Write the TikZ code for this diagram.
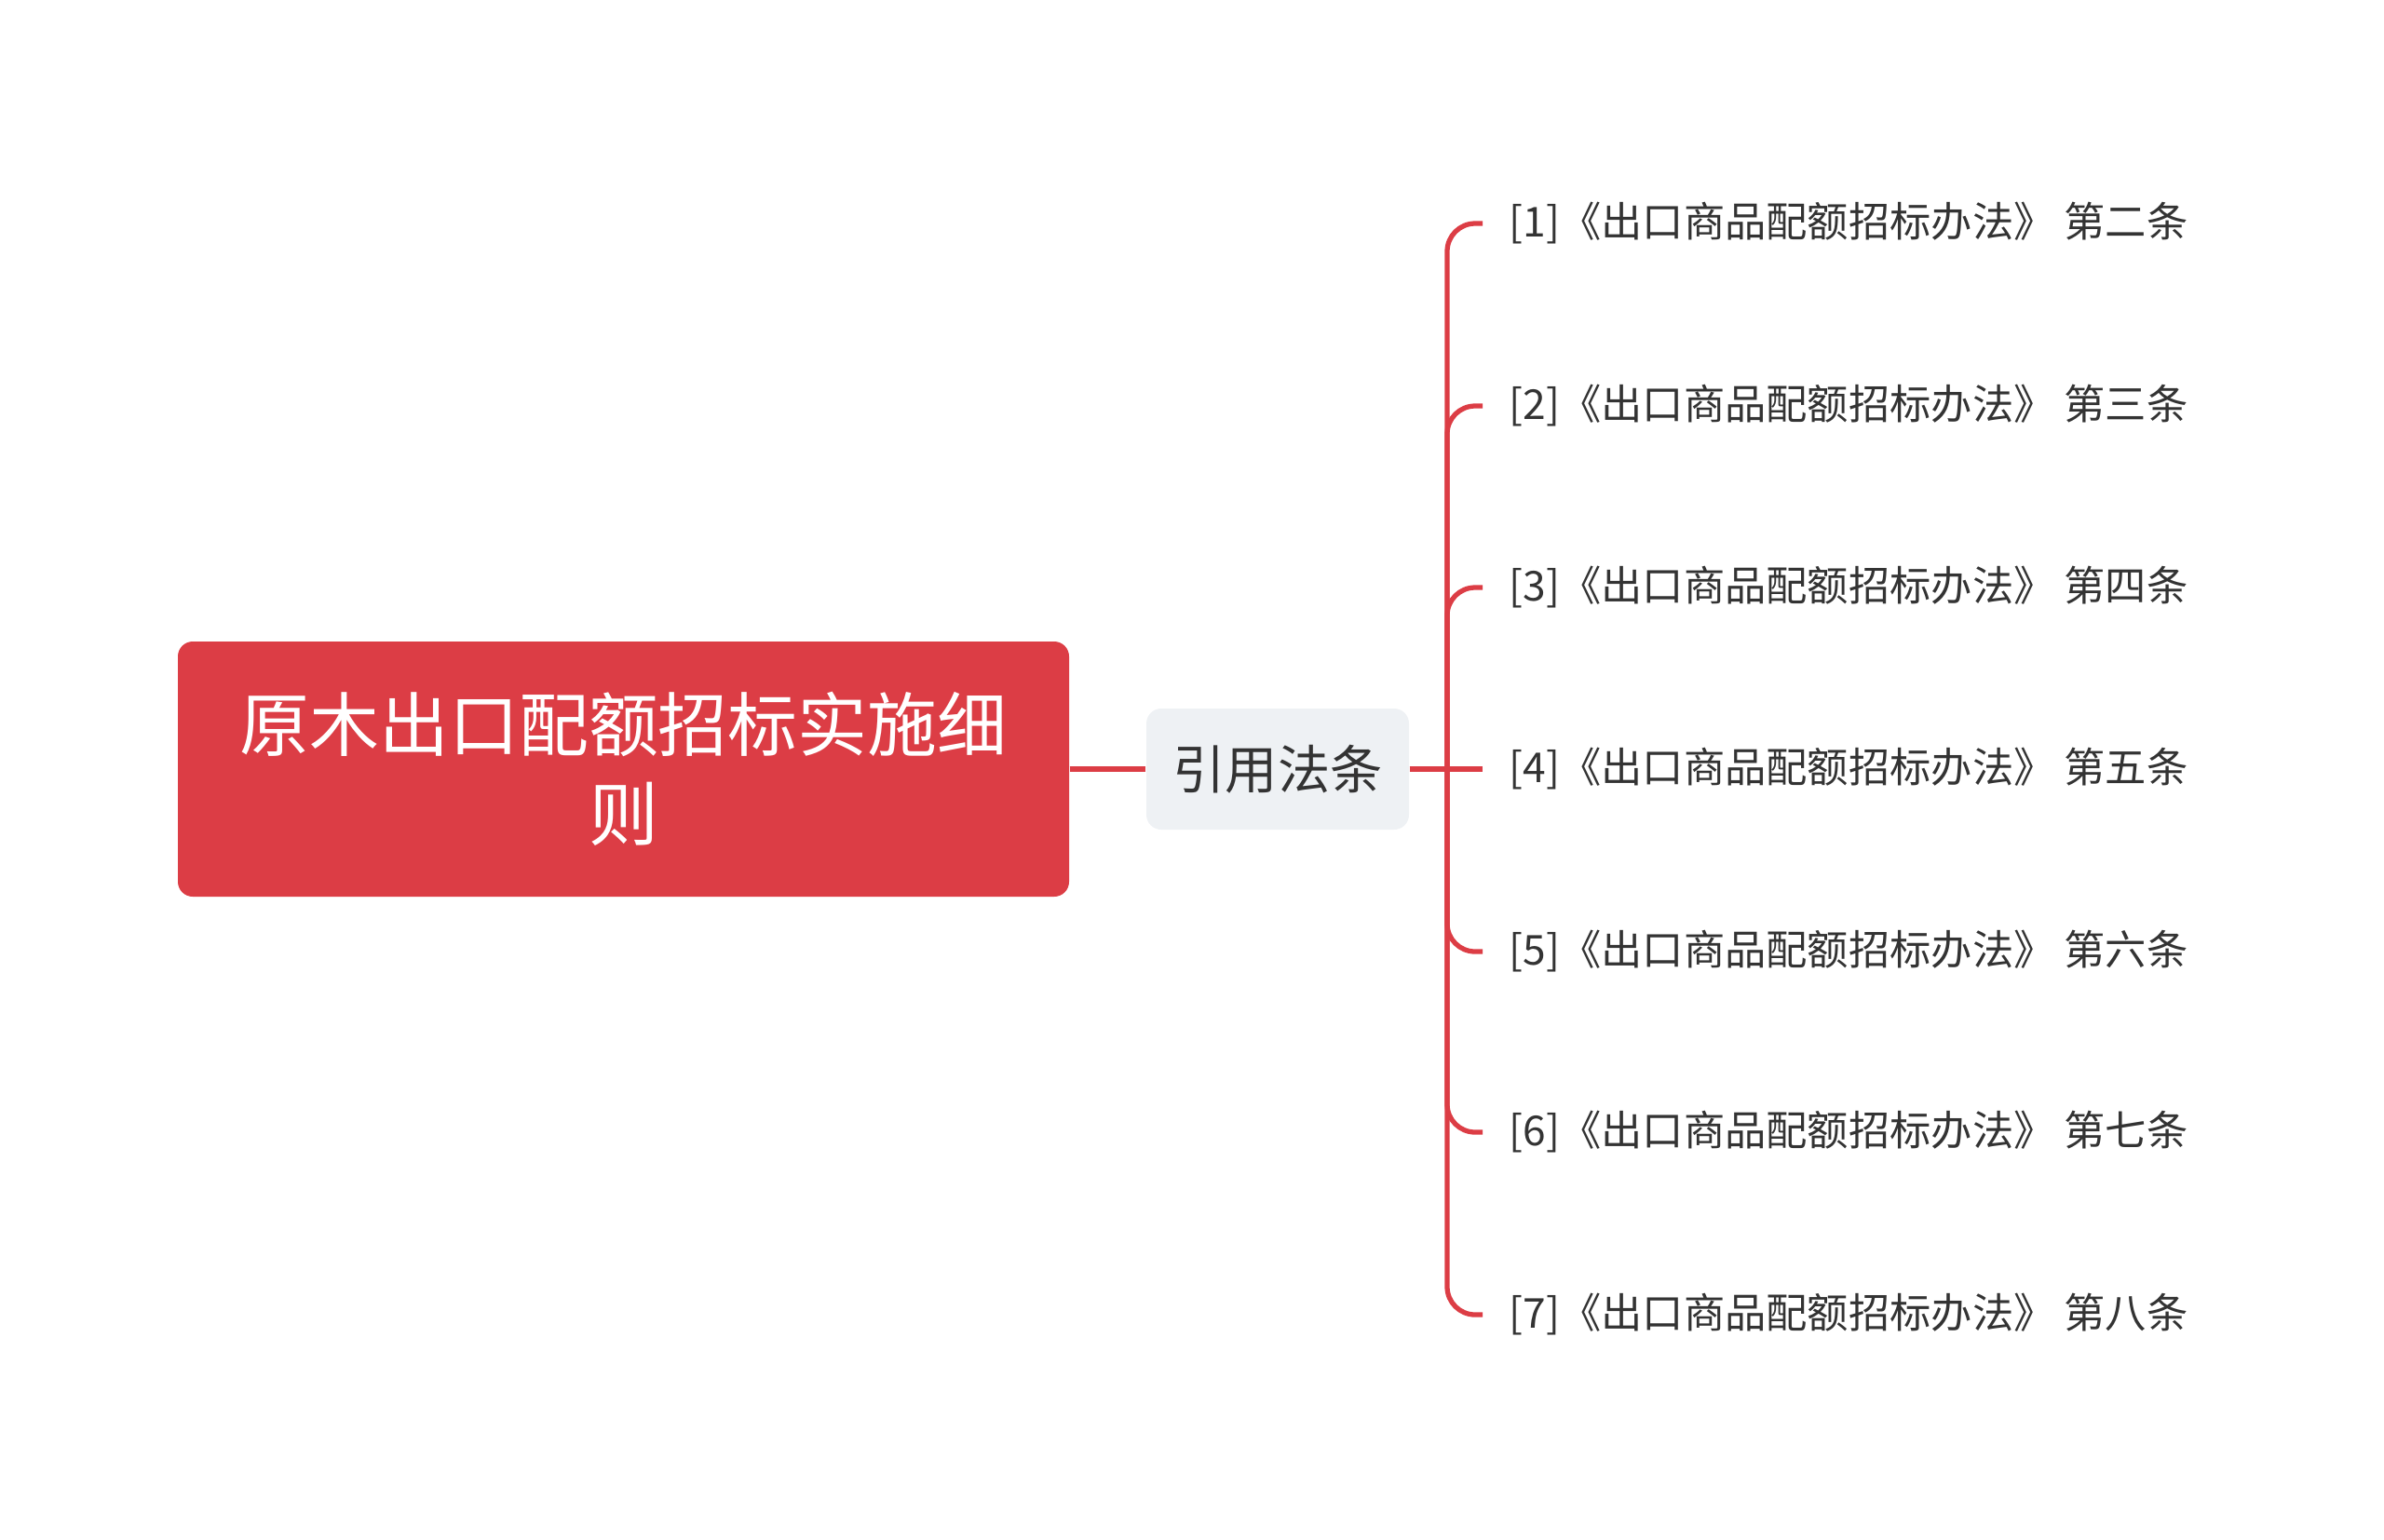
\documentclass[tikz,border=0pt]{standalone}
\usepackage{fontspec}
\setmainfont{Noto Sans CJK SC}
\usetikzlibrary{positioning}
\definecolor{rootred}{HTML}{DC3D45}
\definecolor{catgray}{HTML}{EEF1F4}
\definecolor{txtgray}{HTML}{333333}

\begin{document}
\begin{tikzpicture}[
        rootbox/.style={fill=rootred, rounded corners=0.16cm, minimum width=9.57cm, minimum height=2.74cm,
            text=white, align=center, font=\fontsize{21.3}{27.3}\selectfont},
        catbox/.style={fill=catgray, rounded corners=0.16cm, minimum width=2.82cm, minimum height=1.30cm,
            text=txtgray, font=\fontsize{16}{19}\selectfont},
        leaf/.style={anchor=west, inner xsep=0.28cm, inner ysep=0.1cm, text=txtgray, font=\fontsize{12.6}{15}\selectfont},
        link/.style={draw=rootred, line width=1.5pt, rounded corners=0.3cm}
    ]
        \useasboundingbox (0, 0) rectangle (25.6, -16.53);

        \node[rootbox] (root) at (6.695, -8.26) {原木出口配额招标实施细\\则};
        \node[catbox] (cat) at (13.72, -8.26) {引用法条};

        \node[leaf] (l1) at (15.92, -2.40) {[1]《出口商品配额招标办法》 第二条};
        \node[leaf] (l2) at (15.92, -4.36) {[2]《出口商品配额招标办法》 第三条};
        \node[leaf] (l3) at (15.92, -6.31) {[3]《出口商品配额招标办法》 第四条};
        \node[leaf] (l4) at (15.92, -8.26) {[4]《出口商品配额招标办法》 第五条};
        \node[leaf] (l5) at (15.92, -10.22) {[5]《出口商品配额招标办法》 第六条};
        \node[leaf] (l6) at (15.92, -12.16) {[6]《出口商品配额招标办法》 第七条};
        \node[leaf] (l7) at (15.92, -14.12) {[7]《出口商品配额招标办法》 第八条};

        \coordinate (fork) at (15.54, -8.26);

        \draw[link] (root) -- (cat);
        \draw[link] (cat) -- (l4.west);
        \draw[link] (fork) |- (l1.west);
        \draw[link] (fork) |- (l2.west);
        \draw[link] (fork) |- (l3.west);
        \draw[link] (fork) |- (l5.west);
        \draw[link] (fork) |- (l6.west);
        \draw[link] (fork) |- (l7.west);
    \end{tikzpicture}
\end{document}
